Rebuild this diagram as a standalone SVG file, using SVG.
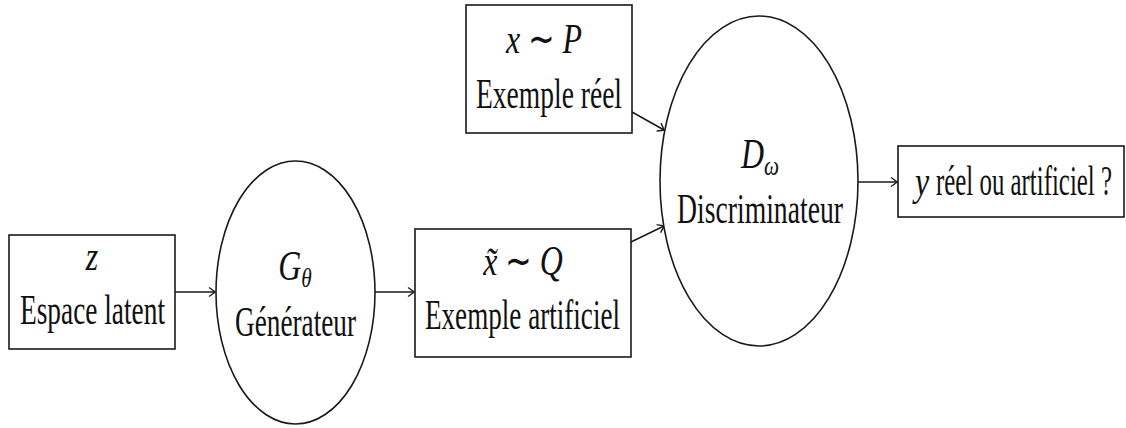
<svg xmlns="http://www.w3.org/2000/svg" width="1126" height="428" viewBox="0 0 1126 428">
<style>
.n{fill:#fff;stroke:#1a1a1a;stroke-width:1.6}
text{font-family:'Liberation Serif','Times New Roman',serif;font-size:42px;fill:#111}
.m{font-style:italic}
.s{font-size:28px}
.c{stroke:#1a1a1a;stroke-width:1.6;fill:none}
</style>
<defs>
<marker id="a" viewBox="-8 -6 10 12" markerWidth="10" markerHeight="12" refX="0" refY="0" orient="auto" markerUnits="userSpaceOnUse">
<path d="M-6,-4.5 Q-1.2,-1.2 0,0 Q-1.2,1.2 -6,4.5" fill="none" stroke="#1a1a1a" stroke-width="1.4"/>
</marker>
</defs>
<rect width="1126" height="428" fill="#fff"/>
<g id="connectors">
<line class="c" x1="175" y1="292" x2="215" y2="292" marker-end="url(#a)"/>
<line class="c" x1="375" y1="292" x2="414" y2="292" marker-end="url(#a)"/>
<line class="c" x1="632" y1="112" x2="664" y2="130" marker-end="url(#a)"/>
<line class="c" x1="631" y1="242" x2="664" y2="226" marker-end="url(#a)"/>
<line class="c" x1="858" y1="182" x2="897" y2="182" marker-end="url(#a)"/>
</g>
<g id="latent">
<rect class="n" x="9" y="235" width="166" height="114"/>
<text class="m" transform="translate(92,270) scale(0.76,1)" text-anchor="middle">z</text>
<text x="20" y="324" textLength="145" lengthAdjust="spacingAndGlyphs">Espace latent</text>
</g>
<g id="generateur">
<ellipse class="n" cx="295.5" cy="292.5" rx="79.5" ry="131.5"/>
<text transform="translate(295,280) scale(0.76,1)" text-anchor="middle"><tspan class="m">G</tspan><tspan class="m s" dy="7">θ</tspan></text>
<text x="235" y="336" textLength="121" lengthAdjust="spacingAndGlyphs">Générateur</text>
</g>
<g id="artificiel">
<rect class="n" x="415" y="229" width="216" height="128"/>
<text transform="translate(523,275) scale(0.76,1)" text-anchor="middle"><tspan class="m">x̃</tspan> ∼ <tspan class="m">Q</tspan></text>
<text x="425" y="329" textLength="195" lengthAdjust="spacingAndGlyphs">Exemple artificiel</text>
</g>
<g id="reel">
<rect class="n" x="466" y="5" width="166" height="128"/>
<text transform="translate(544,53) scale(0.76,1)" text-anchor="middle"><tspan class="m">x</tspan> ∼ <tspan class="m">P</tspan></text>
<text x="476" y="108" textLength="146" lengthAdjust="spacingAndGlyphs">Exemple réel</text>
</g>
<g id="discriminateur">
<ellipse class="n" cx="759" cy="181" rx="99" ry="165"/>
<text transform="translate(760,168) scale(0.76,1)" text-anchor="middle"><tspan class="m">D</tspan><tspan class="m s" dy="7">ω</tspan></text>
<text x="677" y="223" textLength="166" lengthAdjust="spacingAndGlyphs">Discriminateur</text>
</g>
<g id="sortie">
<rect class="n" x="898" y="146" width="226" height="71"/>
<text class="m" transform="translate(915,195) scale(0.76,1)">y</text>
<text x="936" y="195" textLength="176" lengthAdjust="spacingAndGlyphs">réel ou artificiel ?</text>
</g>
</svg>
